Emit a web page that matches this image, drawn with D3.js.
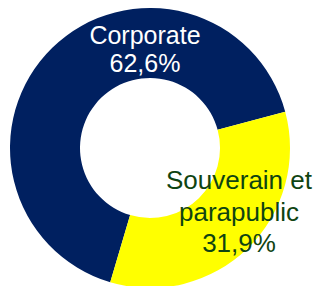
<!DOCTYPE html>
<html>
<head>
<meta charset="utf-8">
<script src="https://cdn.jsdelivr.net/npm/d3@7"></script>
<style>
    body { margin: 0; background: #fff; }
    svg { display: block; }
</style>
</head>
<body>
<svg width="317" height="286"></svg>
<script>
const categories = ['Corporate', 'Souverain et parapublic'];
const shares = [62.6, 31.9];
const labels = ['62,6%', '31,9%'];
const colors = ['#002060', '#ffff00'];

const svg = d3.select('svg');
const cx = 150, cy = 148;

const pie = d3.pie()
    .sort(null)
    .value(d => d.value)
    .startAngle(196.5 * Math.PI / 180)
    .endAngle(196.5 * Math.PI / 180 + 2 * Math.PI);

const arc = d3.arc()
    .innerRadius(70)
    .outerRadius(140);

const data = categories.map((c, i) => ({ name: c, value: shares[i], color: colors[i] }));

svg.append('g')
    .attr('transform', `translate(${cx},${cy})`)
    .selectAll('path')
    .data(pie(data))
    .enter()
    .append('path')
    .attr('d', arc)
    .attr('fill', d => d.data.color);

// label lines: text, x, baseline y, colour, size
const labelLines = [
    ['Corporate', 145, 44, '#ffffff', 25],
    [labels[0], 145, 71.5, '#ffffff', 25],
    ['Souverain et', 239, 189, '#0f4412', 26],
    ['parapublic', 239, 221, '#0f4412', 26],
    [labels[1], 239, 251.5, '#0f4412', 26]
];

svg.append('g')
    .selectAll('text')
    .data(labelLines)
    .enter()
    .append('text')
    .attr('x', d => d[1])
    .attr('y', d => d[2])
    .attr('text-anchor', 'middle')
    .style('font-family', '"Liberation Sans", Arial, sans-serif')
    .style('font-size', d => d[4] + 'px')
    .style('fill', d => d[3])
    .text(d => d[0]);
</script>
</body>
</html>
